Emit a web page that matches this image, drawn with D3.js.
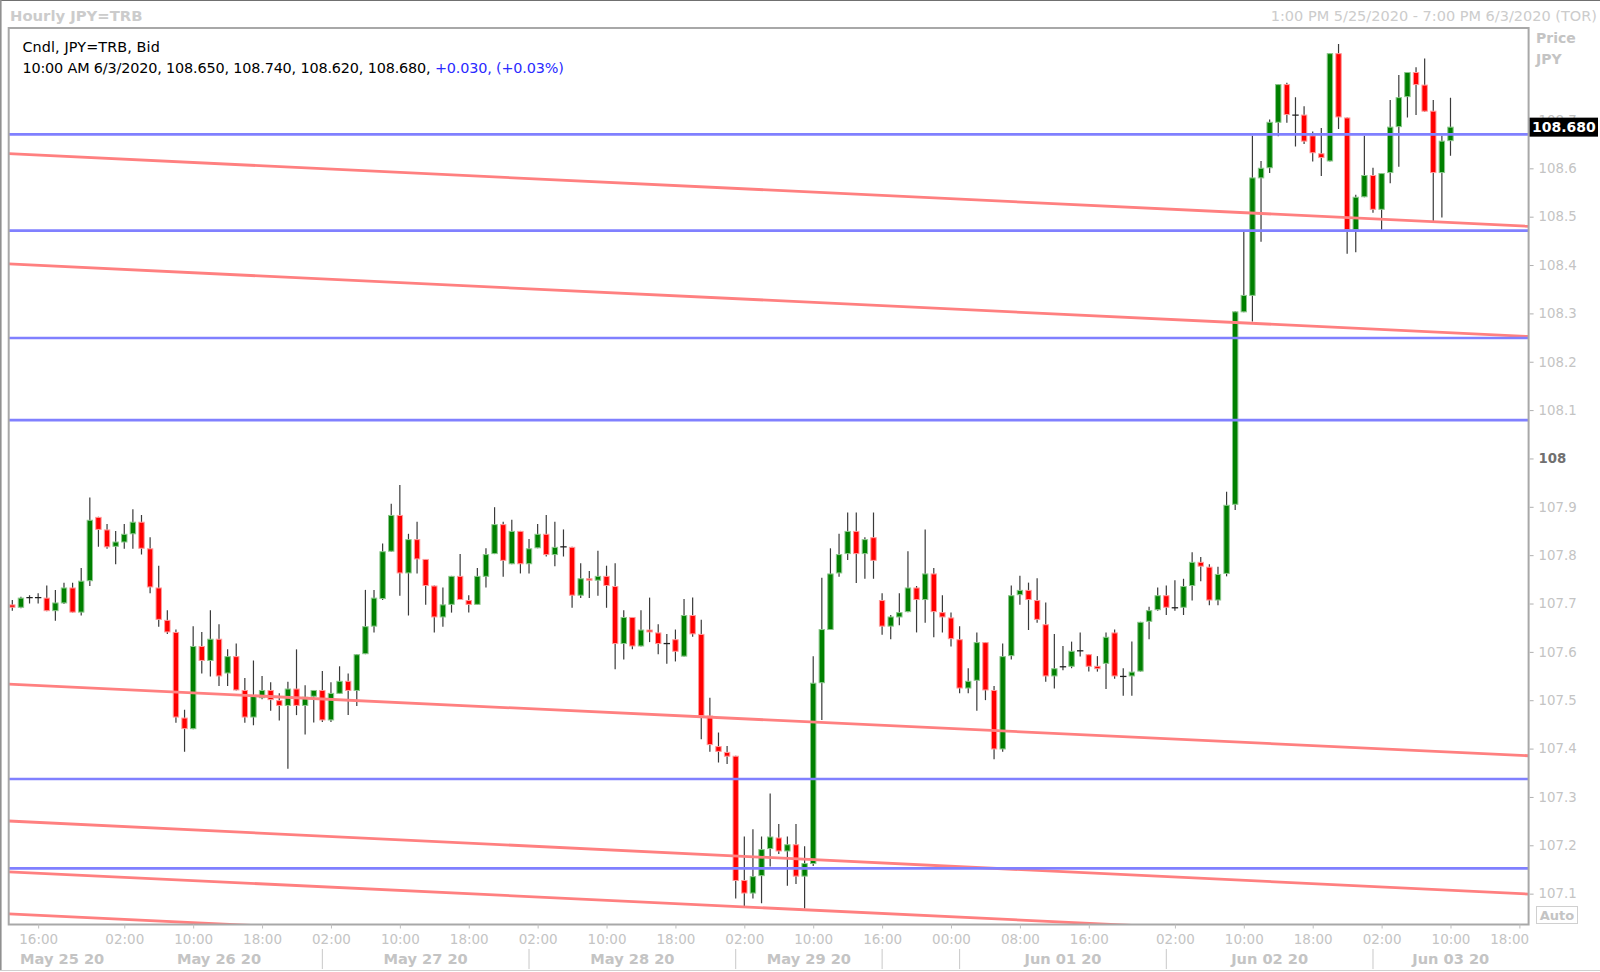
<!DOCTYPE html>
<html><head><meta charset="utf-8">
<script src="https://cdn.jsdelivr.net/npm/d3@7"></script>
<style>html,body{margin:0;padding:0;background:#fff;} svg{display:block;font-family:"DejaVu Sans",sans-serif;}</style>
</head><body>
<svg id="chart" width="1600" height="972"></svg>
<script>
// ---- Data (hourly bars, index 0 = 1:00 PM 5/25/2020) ----
const opens = [107.692,107.685,107.706,107.706,107.706,107.678,107.694,107.727,107.675,107.740,
107.873,107.847,107.811,107.820,107.837,107.863,107.808,107.727,107.660,107.635,
107.458,107.434,107.606,107.575,107.621,107.549,107.585,107.515,107.458,107.498,
107.515,107.494,107.482,107.518,107.482,107.501,107.515,107.452,107.507,107.534,
107.513,107.589,107.646,107.703,107.801,107.877,107.756,107.827,107.786,107.731,
107.665,107.691,107.751,107.701,107.691,107.749,107.796,107.858,107.775,107.844,
107.775,107.808,107.838,107.794,107.811,107.811,107.710,107.746,107.741,107.751,
107.730,107.610,107.666,107.605,107.640,107.634,107.611,107.620,107.584,107.670,
107.631,107.462,107.399,107.387,107.379,107.122,107.094,107.130,107.186,107.210,
107.181,107.196,107.129,107.155,107.529,107.639,107.756,107.796,107.844,107.796,
107.831,107.701,107.646,107.665,107.676,107.727,107.701,107.756,107.676,107.665,
107.620,107.518,107.534,107.614,107.515,107.392,107.585,107.711,107.722,107.701,
107.651,107.543,107.560,107.563,107.596,107.589,107.565,107.569,107.634,107.543,
107.543,107.553,107.656,107.680,107.711,107.685,107.685,107.730,107.780,107.770,
107.700,107.755,107.898,108.296,108.330,108.573,108.594,108.688,108.768,108.704,
108.705,108.662,108.625,108.608,108.832,108.699,108.466,108.534,108.580,108.508,
108.584,108.679,108.741,108.793,108.767,108.713,108.584,108.650];
const highs = [107.701,107.708,107.711,107.715,107.731,107.722,107.737,107.737,107.767,107.913,
107.873,107.858,107.844,107.858,107.889,107.877,107.831,107.772,107.680,107.640,
107.474,107.647,107.635,107.680,107.651,107.599,107.611,107.540,107.576,107.544,
107.531,107.508,107.532,107.599,107.525,107.515,107.554,107.531,107.564,107.549,
107.589,107.722,107.722,107.818,107.900,107.939,107.838,107.863,107.786,107.731,
107.727,107.751,107.796,107.711,107.767,107.808,107.893,107.863,107.867,107.844,
107.827,107.858,107.877,107.863,107.847,107.811,107.777,107.761,107.803,107.772,
107.777,107.680,107.666,107.680,107.706,107.651,107.631,107.640,107.703,107.706,
107.660,107.499,107.427,107.399,107.379,107.212,107.227,107.212,107.301,107.238,
107.212,107.238,107.192,107.585,107.747,107.808,107.838,107.882,107.882,107.831,
107.882,107.715,107.670,107.715,107.802,107.730,107.847,107.767,107.711,107.675,
107.647,107.560,107.634,107.614,107.523,107.611,107.731,107.751,107.737,107.746,
107.696,107.631,107.606,107.615,107.634,107.589,107.585,107.634,107.640,107.560,
107.615,107.656,107.687,107.727,107.731,107.742,107.745,107.800,107.790,107.775,
107.770,107.925,108.298,108.463,108.661,108.609,108.695,108.768,108.771,108.741,
108.722,108.670,108.677,108.832,108.851,108.699,108.539,108.661,108.595,108.584,
108.735,108.787,108.793,108.803,108.821,108.735,108.661,108.740];
const lows = [107.679,107.684,107.694,107.694,107.678,107.658,107.693,107.675,107.669,107.730,
107.811,107.807,107.775,107.807,107.807,107.795,107.715,107.646,107.631,107.447,
107.387,107.434,107.549,107.543,107.523,107.523,107.514,107.447,107.442,107.496,
107.472,107.452,107.352,107.463,107.423,107.448,107.449,107.449,107.507,107.463,
107.482,107.589,107.634,107.701,107.801,107.710,107.669,107.756,107.691,107.634,
107.646,107.675,107.701,107.675,107.691,107.727,107.796,107.749,107.775,107.756,
107.756,107.808,107.791,107.771,107.791,107.685,107.705,107.705,107.710,107.685,
107.558,107.578,107.599,107.605,107.614,107.589,107.569,107.574,107.584,107.625,
107.413,107.387,107.365,107.362,107.084,107.067,107.084,107.074,107.150,107.176,
107.110,107.114,107.063,107.151,107.453,107.639,107.749,107.784,107.736,107.745,
107.745,107.629,107.620,107.649,107.676,107.634,107.654,107.624,107.634,107.605,
107.508,107.508,107.472,107.494,107.372,107.387,107.578,107.691,107.639,107.654,
107.532,107.518,107.556,107.560,107.584,107.553,107.553,107.517,107.538,107.503,
107.503,107.553,107.620,107.679,107.670,107.679,107.670,107.700,107.740,107.690,
107.690,107.750,107.887,108.296,108.277,108.442,108.584,108.660,108.688,108.639,
108.644,108.608,108.578,108.608,108.675,108.417,108.420,108.534,108.502,108.466,
108.563,108.597,108.699,108.704,108.711,108.485,108.492,108.620];
const closes = [107.685,107.706,107.706,107.706,107.678,107.696,107.727,107.675,107.741,107.867,
107.846,107.810,107.822,107.838,107.863,107.807,107.727,107.660,107.634,107.458,
107.434,107.606,107.575,107.621,107.543,107.585,107.514,107.458,107.503,107.515,
107.494,107.482,107.518,107.482,107.501,107.515,107.452,107.509,107.534,107.513,
107.589,107.647,107.706,107.802,107.877,107.756,107.827,107.785,107.730,107.665,
107.692,107.751,107.701,107.691,107.751,107.796,107.858,107.782,107.844,107.775,
107.808,107.838,107.794,107.811,107.811,107.710,107.746,107.741,107.751,107.730,
107.610,107.666,107.605,107.640,107.634,107.610,107.611,107.594,107.670,107.630,
107.461,107.401,107.387,107.377,107.120,107.094,107.130,107.186,107.212,107.181,
107.196,107.129,107.157,107.530,107.641,107.756,107.796,107.844,107.796,107.827,
107.782,107.646,107.667,107.676,107.727,107.701,107.756,107.676,107.665,107.620,
107.518,107.534,107.614,107.514,107.392,107.585,107.711,107.722,107.701,107.660,
107.543,107.560,107.563,107.596,107.596,107.563,107.558,107.625,107.543,107.543,
107.553,107.656,107.680,107.711,107.685,107.685,107.730,107.780,107.770,107.700,
107.755,107.898,108.298,108.332,108.575,108.595,108.690,108.768,108.704,108.704,
108.649,108.625,108.615,108.832,108.699,108.466,108.535,108.580,108.508,108.584,
108.680,108.741,108.793,108.766,108.711,108.584,108.651,108.680];

// horizontal support/resistance lines (price)
const blueLevels = [108.664, 108.465, 108.243, 108.073, 107.331, 107.146];
// sloped trend lines: [price at left edge, price at right edge]
const redLinesStart = [108.624, 108.396, 107.527, 107.244, 107.139, 107.052];
const redLinesEnd   = [108.474, 108.246, 107.379, 107.093, 106.989, 106.902];

// axis ticks
const yTicks = [107.1,107.2,107.3,107.4,107.5,107.6,107.7,107.8,107.9,108,108.1,108.2,108.3,108.4,108.5,108.6,108.7];
const xTickIdx = [3,13,21,29,37,45,53,61,69,77,85,93,101,109,117,125,135,143,151,159,167,175];
const xTickLabels = ["16:00","02:00","10:00","18:00","02:00","10:00","18:00","02:00","10:00","18:00","02:00","10:00","16:00","00:00","08:00","16:00","02:00","10:00","18:00","02:00","10:00","18:00"];
const dayBounds = [-0.42, 12, 36, 60, 84, 101, 110, 134, 158, 176.07];
const dayLabels = ["May 25 20","May 26 20","May 27 20","May 28 20","May 29 20","","Jun 01 20","Jun 02 20","Jun 03 20"];
const daySeparatorShown = [false, false, true, true, true, true, true, true, true, false];

const lastPrice = 108.680;

// ---- Layout ----
const svg = d3.select("#chart");
const plot = {left: 8.7, top: 28, right: 1528.6, bottom: 924.5};
const x = d3.scaleLinear().domain([-0.42, 176.07]).range([plot.left, plot.right]);
const y = d3.scaleLinear().domain([107.030, 108.884]).range([plot.bottom, plot.top]);
const gray = "#c4c4c4";

svg.append("rect").attr("x",0).attr("y",0).attr("width",1600).attr("height",972).attr("fill","#fff");
// outer frame
svg.append("line").attr("x1",0).attr("x2",1600).attr("y1",0.5).attr("y2",0.5).attr("stroke","#707070");
svg.append("line").attr("x1",0.8).attr("x2",0.8).attr("y1",0).attr("y2",971).attr("stroke","#909090").attr("stroke-width",1.6);
svg.append("line").attr("x1",0).attr("x2",1600).attr("y1",970.5).attr("y2",970.5).attr("stroke","#d0d0d0");

// titles
svg.append("text").attr("x",10).attr("y",15.5).attr("dy","0.35em").attr("font-size",14.8).attr("font-weight","bold").attr("fill","#cccccc").text("Hourly JPY=TRB");
svg.append("text").attr("x",1597).attr("y",15.5).attr("dy","0.35em").attr("text-anchor","end").attr("font-size",14.5).attr("fill","#cccccc").text("1:00 PM 5/25/2020 - 7:00 PM 6/3/2020 (TOR)");

// clip
svg.append("clipPath").attr("id","clip").append("rect")
  .attr("x",plot.left).attr("y",plot.top).attr("width",plot.right-plot.left).attr("height",plot.bottom-plot.top);

const gPlot = svg.append("g").attr("clip-path","url(#clip)");

// candles
const idx = d3.range(opens.length);
const bodyW = 6.4;
gPlot.append("g").selectAll("line").data(idx).join("line")
  .attr("x1", i => x(i)).attr("x2", i => x(i))
  .attr("y1", i => y(highs[i])).attr("y2", i => y(lows[i]))
  .attr("stroke", "#3a3a3a").attr("stroke-width", 1.2);
gPlot.append("g").selectAll("rect").data(idx.filter(i => Math.abs(y(opens[i]) - y(closes[i])) >= 1.5)).join("rect")
  .attr("x", i => x(i) - bodyW/2 + 0.5)
  .attr("width", bodyW - 1)
  .attr("y", i => y(Math.max(opens[i], closes[i])) + 0.5)
  .attr("height", i => Math.abs(y(opens[i]) - y(closes[i])) - 1)
  .attr("fill", i => closes[i] > opens[i] ? "#008000" : "#ff0000")
  .attr("stroke", i => closes[i] > opens[i] ? "#8cc78c" : "#ff9a9a")
  .attr("stroke-width", 1);
gPlot.append("g").selectAll("line").data(idx.filter(i => Math.abs(y(opens[i]) - y(closes[i])) < 1.5)).join("line")
  .attr("x1", i => x(i) - bodyW/2).attr("x2", i => x(i) + bodyW/2)
  .attr("y1", i => y(closes[i])).attr("y2", i => y(closes[i]))
  .attr("stroke", "#202020").attr("stroke-width", 1.3);

// red trend lines
gPlot.append("g").selectAll("line").data(d3.range(redLinesStart.length)).join("line")
  .attr("x1", x(-0.42)).attr("x2", x(176.07))
  .attr("y1", k => y(redLinesStart[k])).attr("y2", k => y(redLinesEnd[k]))
  .attr("stroke", "#ff8080").attr("stroke-width", 2.8);
// blue horizontal lines
gPlot.append("g").selectAll("line").data(blueLevels).join("line")
  .attr("x1", plot.left).attr("x2", plot.right)
  .attr("y1", d => y(d)).attr("y2", d => y(d))
  .attr("stroke", "#8080ff").attr("stroke-width", 2.6);

// legend text
const leg = svg.append("g").attr("font-size",14.4).attr("fill","#000");
leg.append("text").attr("x",22.4).attr("y",46.5).attr("dy","0.35em").attr("letter-spacing",0.1).text("Cndl, JPY=TRB, Bid");
const t2 = leg.append("text").attr("x",22.4).attr("y",67.5).attr("dy","0.35em").attr("letter-spacing",-0.16);
t2.append("tspan").text("10:00 AM 6/3/2020, 108.650, 108.740, 108.620, 108.680, ");
t2.append("tspan").attr("fill","#2a2aff").text("+0.030, (+0.03%)");

// plot frame
svg.append("rect").attr("x",plot.left).attr("y",plot.top).attr("width",plot.right-plot.left).attr("height",plot.bottom-plot.top)
  .attr("fill","none").attr("stroke","#a8a8a8").attr("stroke-width",2);

// y axis (right)
const yAxis = d3.axisRight(y).tickValues(yTicks).tickSize(4).tickPadding(5)
  .tickFormat(d => Math.abs(d-108) < 1e-9 ? "108" : d.toFixed(1));
const gy = svg.append("g").attr("transform",`translate(${plot.right+1},3)`).call(yAxis);
gy.select(".domain").remove();
gy.selectAll(".tick line").attr("stroke","#b0b0b0");
gy.selectAll(".tick text").attr("font-family","DejaVu Sans").attr("font-size",13.3)
  .attr("fill", d => Math.abs(d-108)<1e-9 ? "#707070" : gray)
  .attr("font-weight", d => Math.abs(d-108)<1e-9 ? "bold" : "normal");

svg.append("text").attr("x",1536).attr("y",38).attr("dy","0.35em").attr("font-size",14).attr("font-weight","bold").attr("fill",gray).text("Price");
svg.append("text").attr("x",1536).attr("y",59).attr("dy","0.35em").attr("font-size",14).attr("font-weight","bold").attr("fill",gray).text("JPY");

// last price box
const yl = y(lastPrice);
svg.append("rect").attr("x",plot.right+1).attr("y",yl-9).attr("width",1598-plot.right-1).attr("height",19).attr("fill","#000");
svg.append("text").attr("x",(plot.right+1+1598)/2).attr("y",yl+0.5).attr("dy","0.35em").attr("text-anchor","middle")
  .attr("font-size",14).attr("font-weight","bold").attr("fill","#fff").text(lastPrice.toFixed(3));

// Auto box
svg.append("rect").attr("x",1536.5).attr("y",906.5).attr("width",41).attr("height",17).attr("fill","#fff").attr("stroke","#d0d0d0");
svg.append("text").attr("x",1557).attr("y",915).attr("dy","0.35em").attr("text-anchor","middle").attr("font-size",13).attr("font-weight","bold").attr("fill",gray).text("Auto");

// x axis
const xAxis = d3.axisBottom(x).tickValues(xTickIdx).tickSize(4).tickFormat((d,i) => xTickLabels[i]);
const gx = svg.append("g").attr("transform",`translate(0,${plot.bottom})`).call(xAxis);
gx.select(".domain").remove();
gx.selectAll(".tick line").attr("stroke","#c0c0c0");
gx.selectAll(".tick text").attr("font-family","DejaVu Sans").attr("font-size",13.5).attr("fill",gray)
  .attr("y",14.5).attr("dy","0.35em");
// keep last label inside plot width
gx.selectAll(".tick text").each(function(d){
  const bb = this.getBBox();
  const cx = x(d);
  if (cx + bb.width/2 > plot.right) d3.select(this).attr("x", plot.right - bb.width/2 - cx);
});

// day labels and separators
const gd = svg.append("g");
for (let k = 0; k < dayBounds.length; k++) {
  if (daySeparatorShown[k]) {
    gd.append("line").attr("x1", x(dayBounds[k])).attr("x2", x(dayBounds[k]))
      .attr("y1", 949).attr("y2", 969).attr("stroke", "#c8c8c8");
  }
}
for (let k = 0; k < dayLabels.length; k++) {
  if (!dayLabels[k]) continue;
  gd.append("text").attr("x", (x(dayBounds[k]) + x(dayBounds[k+1]))/2).attr("y", 959).attr("dy","0.35em")
    .attr("text-anchor","middle").attr("font-size",14.6).attr("font-weight","bold").attr("fill",gray).text(dayLabels[k]);
}
</script>
</body></html>
